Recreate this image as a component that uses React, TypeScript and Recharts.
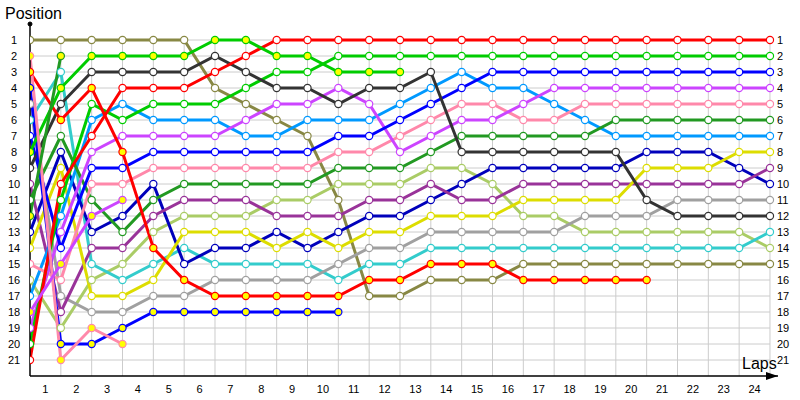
import React from 'react';
import { LineChart, Line, XAxis, YAxis, ReferenceLine, ReferenceDot } from 'recharts';

const laps = [0, 1, 2, 3, 4, 5, 6, 7, 8, 9, 10, 11, 12, 13, 14, 15, 16, 17, 18, 19, 20, 21, 22, 23, 24];
const lapTickPositions = [0.5, 1.5, 2.5, 3.5, 4.5, 5.5, 6.5, 7.5, 8.5, 9.5, 10.5, 11.5, 12.5, 13.5, 14.5, 15.5, 16.5, 17.5, 18.5, 19.5, 20.5, 21.5, 22.5, 23.5];
const lapTickLabels = ['1', '2', '3', '4', '5', '6', '7', '8', '9', '10', '11', '12', '13', '14', '15', '16', '17', '18', '19', '20', '21', '22', '23', '24'];
const positionTicks = [1, 2, 3, 4, 5, 6, 7, 8, 9, 10, 11, 12, 13, 14, 15, 16, 17, 18, 19, 20, 21];

// Finishers
const red = [21, 10, 7, 4, 4, 4, 3, 2, 1, 1, 1, 1, 1, 1, 1, 1, 1, 1, 1, 1, 1, 1, 1, 1, 1];
const green = [20, 11, 5, 6, 5, 5, 5, 4, 3, 3, 2, 2, 2, 2, 2, 2, 2, 2, 2, 2, 2, 2, 2, 2, 2];
const blue = [7, 14, 9, 9, 8, 8, 8, 8, 8, 8, 7, 7, 6, 5, 4, 3, 3, 3, 3, 3, 3, 3, 3, 3, 3];
const violet = [19, 13, 8, 7, 7, 7, 7, 6, 5, 5, 4, 5, 8, 7, 6, 6, 5, 4, 4, 4, 4, 4, 4, 4, 4];
const pink = [15, 16, 10, 10, 9, 9, 9, 9, 9, 9, 8, 8, 7, 6, 5, 5, 6, 6, 5, 5, 5, 5, 5, 5, 5];
const darkGreen = [11, 7, 11, 13, 11, 10, 10, 10, 10, 10, 9, 9, 9, 8, 7, 7, 7, 7, 7, 6, 6, 6, 6, 6, 6];
const lightBlue = [17, 12, 6, 5, 6, 6, 6, 7, 7, 6, 6, 6, 5, 4, 3, 4, 4, 5, 6, 7, 7, 7, 7, 7, 7];
const yellow = [14, 9, 17, 17, 16, 13, 13, 13, 14, 13, 14, 13, 13, 12, 12, 12, 11, 11, 11, 11, 9, 9, 9, 8, 8];
const purple = [10, 18, 14, 14, 12, 11, 11, 11, 12, 12, 12, 11, 11, 10, 11, 11, 10, 10, 10, 10, 10, 10, 10, 10, 9];
const darkBlue = [13, 8, 13, 12, 10, 15, 14, 14, 13, 14, 13, 12, 12, 11, 10, 9, 9, 9, 9, 9, 8, 8, 8, 9, 10];
const gray = [5, 17, 18, 18, 17, 17, 16, 16, 16, 16, 15, 14, 14, 13, 13, 13, 13, 13, 12, 12, 12, 11, 11, 11, 11];
const black = [9, 5, 3, 3, 3, 3, 2, 3, 4, 4, 5, 4, 4, 3, 8, 8, 8, 8, 8, 8, 11, 12, 12, 12, 12];
const cyan = [6, 3, 15, 16, 15, 14, 15, 15, 15, 15, 16, 15, 15, 14, 14, 14, 14, 14, 14, 14, 14, 14, 14, 14, 13];
const lightOlive = [16, 19, 16, 15, 13, 12, 12, 12, 11, 11, 10, 10, 10, 9, 9, 10, 12, 12, 13, 13, 13, 13, 13, 13, 14];
const olive = [1, 1, 1, 1, 1, 1, 4, 5, 6, 7, 11, 17, 17, 16, 16, 16, 15, 15, 15, 15, 15, 15, 15, 15, 15];
// Retired (yellow markers)
const redOut = [3, 6, 4, 8, 14, 16, 17, 17, 17, 17, 17, 16, 16, 15, 15, 15, 16, 16, 16, 16, 16];
const blueOut = [4, 20, 20, 19, 18, 18, 18, 18, 18, 18, 18];
const greenOut = [8, 4, 2, 2, 2, 2, 1, 1, 2, 2, 3, 3, 3];
const pinkOut = [2, 21, 19, 20];
const violetOut = [18, 15, 12, 11];
const darkGreenOut = [12, 2];

const drivers = [
  { key: 'olive', color: '#888844', out: false, pos: olive },
  { key: 'lightOlive', color: '#aacc66', out: false, pos: lightOlive },
  { key: 'cyan', color: '#33cccc', out: false, pos: cyan },
  { key: 'gray', color: '#a0a0a0', out: false, pos: gray },
  { key: 'darkBlue', color: '#0000bb', out: false, pos: darkBlue },
  { key: 'purple', color: '#993399', out: false, pos: purple },
  { key: 'yellow', color: '#dddd00', out: false, pos: yellow },
  { key: 'lightBlue', color: '#0099ff', out: false, pos: lightBlue },
  { key: 'darkGreen', color: '#229922', out: false, pos: darkGreen },
  { key: 'pink', color: '#ff88aa', out: false, pos: pink },
  { key: 'violet', color: '#cc44ff', out: false, pos: violet },
  { key: 'blue', color: '#0000ff', out: false, pos: blue },
  { key: 'green', color: '#00cc00', out: false, pos: green },
  { key: 'black', color: '#333333', out: false, pos: black },
  { key: 'red', color: '#ff0000', out: false, pos: red },
  { key: 'redOut', color: '#ff0000', out: true, pos: redOut },
  { key: 'blueOut', color: '#0000ff', out: true, pos: blueOut },
  { key: 'greenOut', color: '#00cc00', out: true, pos: greenOut },
  { key: 'pinkOut', color: '#ff88aa', out: true, pos: pinkOut },
  { key: 'violetOut', color: '#cc44ff', out: true, pos: violetOut },
  { key: 'darkGreenOut', color: '#229922', out: true, pos: darkGreenOut },
];

const rows = laps.map((lap, i) => {
  const row: Record<string, number | null> = { lap };
  drivers.forEach((d) => {
    row[d.key] = i < d.pos.length ? d.pos[i] : null;
  });
  return row;
});

const FONT = '"Liberation Sans", Arial, sans-serif';

const makeDot = (color: string, fill: string) => (props: any) => {
  const { cx, cy, value, index } = props;
  if (value == null || cx == null || cy == null || isNaN(cy)) return <g key={`d${index}`} />;
  return <circle key={`d${index}`} cx={cx} cy={cy} r={3.6} fill={fill} stroke={color} strokeWidth={1.2} />;
};

const YTick = (props: any) => {
  const { y, payload } = props;
  return (
    <g>
      <text x={14} y={y} dy={4} textAnchor="middle" fontSize={11} fontFamily={FONT} fill="#000">{payload.value}</text>
      <text x={777} y={y} dy={4} textAnchor="start" fontSize={11} fontFamily={FONT} fill="#000">{payload.value}</text>
    </g>
  );
};

const XTick = (props: any) => {
  const { x, payload, index } = props;
  return (
    <text x={x} y={393} textAnchor="middle" fontSize={11} fontFamily={FONT} fill="#000">{lapTickLabels[index] ?? payload.value}</text>
  );
};

const arrowShape = (props: any) => {
  const { cx, cy } = props;
  return <path d={`M${cx - 12},${cy - 4} L${cx},${cy} L${cx - 12},${cy + 4} Z`} fill="#000" />;
};

export default function App() {
  return (
    <div style={{ position: 'absolute', left: 0, top: 0, width: 800, height: 400, background: '#fff' }}>
      <LineChart width={800} height={400} data={rows} margin={{ top: 24, right: 22, bottom: 0, left: 0 }}>
        <XAxis
          dataKey="lap"
          type="number"
          domain={[0, 24.26]}
          ticks={lapTickPositions}
          tick={<XTick />}
          tickLine={false}
          axisLine={{ stroke: '#000', strokeWidth: 1.5 }}
          height={24}
          allowDataOverflow
          interval={0}
        />
        <YAxis
          type="number"
          reversed
          domain={[0, 22]}
          ticks={positionTicks}
          tick={<YTick />}
          tickLine={false}
          axisLine={{ stroke: '#000', strokeWidth: 1.5 }}
          width={30}
          interval={0}
          allowDataOverflow
        />
        {positionTicks.map((p) => (
          <ReferenceLine key={`h${p}`} segment={[{ x: 0, y: p }, { x: 24, y: p }]} stroke="#cccccc" strokeWidth={1} />
        ))}
        {laps.filter((l) => l > 0).map((l) => (
          <ReferenceLine key={`v${l}`} segment={[{ x: l, y: 1 }, { x: l, y: 22 }]} stroke="#cccccc" strokeWidth={1} />
        ))}
        {drivers.map((d) => (
          <Line
            key={d.key}
            dataKey={d.key}
            type="linear"
            stroke={d.color}
            strokeWidth={3}
            dot={makeDot(d.color, d.out ? '#ffff00' : '#ffffff')}
            activeDot={false}
            connectNulls={false}
            isAnimationActive={false}
          />
        ))}
        <ReferenceDot x={0} y={0} r={2} fill="#000" stroke="#000" ifOverflow="visible" />
        <ReferenceDot x={24.26} y={22} shape={arrowShape} ifOverflow="visible" />
      </LineChart>
      <div style={{ position: 'absolute', left: 5, top: 4, fontFamily: FONT, fontSize: 16, color: '#000', lineHeight: '20px' }}>Position</div>
      <div style={{ position: 'absolute', left: 742, top: 354, fontFamily: FONT, fontSize: 16, color: '#000', lineHeight: '20px' }}>Laps</div>
    </div>
  );
}
